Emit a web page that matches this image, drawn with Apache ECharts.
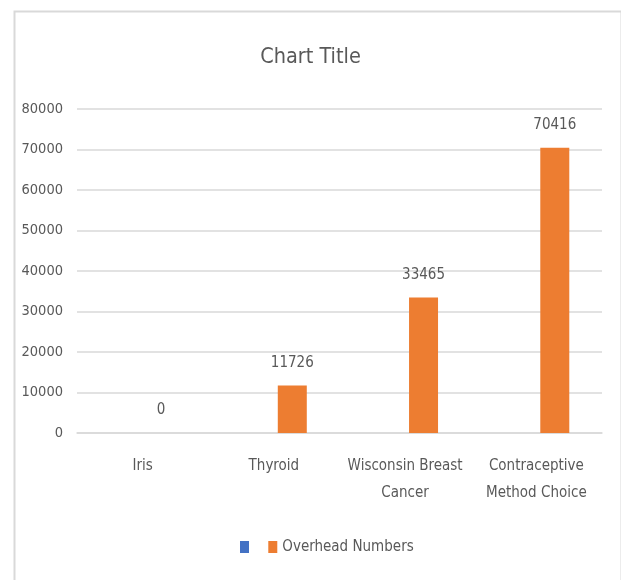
<!DOCTYPE html>
<html>
<head>
<meta charset="utf-8">
<script src="https://cdn.jsdelivr.net/npm/echarts@6/dist/echarts.min.js"></script>
<style>
html,body{margin:0;padding:0;background:#fff;}
#chart{width:621px;height:580px;}
</style>
</head>
<body>
<div id="chart"></div>
<script>
const categories = ['Iris', 'Thyroid', 'Wisconsin Breast Cancer', 'Contraceptive Method Choice'];
const blankSeriesValues = ['-', '-', '-', '-'];
const overheadNumbers = [0, 11726, 33465, 70416];
const yTicks = { min: 0, max: 80000, interval: 10000 };

// pick an installed condensed font if any
const ctx = document.createElement('canvas').getContext('2d');
function w(font, txt) { ctx.font = font; return ctx.measureText(txt).width; }
function available(f) {
  const s = 'Wisconsin Breast 80000 mmmWWWiii';
  return w(`100px "${f}", monospace`, s) !== w('100px monospace', s) ||
         w(`100px "${f}", serif`, s) !== w('100px serif', s);
}
const candidates = ['Liberation Sans Narrow', 'DejaVu Sans Condensed', 'Open Sans Condensed', 'Noto Sans Condensed', 'Liberation Sans'];
let FAMILY = 'Liberation Sans';
for (const c of candidates) { if (available(c)) { FAMILY = c; break; } }
const FONT = `"${FAMILY}", sans-serif`;
const GROW = 1.1;
function fit(txt, target) { return Math.round(GROW * target / w(`100px ${FONT}`, txt) * 100 * 2) / 2; }
const titleSize = fit('Chart Title', 92);
const catSize = fit('Wisconsin Breast', 104);
const ySize = fit('80000', 38);
const dataSize = fit('11726', 39);
const legendSize = fit('Overhead Numbers', 120);

const TXT = '#595959';
const GRID = '#D9D9D9';

const chart = echarts.init(document.getElementById('chart'), null, { renderer: 'canvas' });
chart.setOption({
  backgroundColor: '#fff',
  animation: false,
  graphic: [{
    type: 'rect', left: 12, top: 9, z: -1,
    shape: { width: 607, height: 600 },
    style: { fill: 'none', stroke: '#D9D9D9', lineWidth: 2 }
  }],
  title: {
    text: 'Chart Title', left: 'center', top: 54 - titleSize * 0.6,
    textStyle: { fontFamily: FONT, fontSize: titleSize, fontWeight: 'normal', color: TXT }
  },
  legend: {
    left: 235, top: 534, itemWidth: 9, itemHeight: 12, itemGap: 10,
    icon: 'rect',
    textStyle: { fontFamily: FONT, fontSize: legendSize, color: TXT, lineHeight: 16 },
    data: [' ', 'Overhead Numbers']
  },
  grid: { left: 77, right: 19, top: 109, bottom: 147, containLabel: false },
  xAxis: {
    type: 'category', data: categories,
    axisLine: { lineStyle: { color: GRID, width: 1.5 } },
    axisTick: { show: false },
    axisLabel: {
      interval: 0, margin: 20, color: TXT, fontFamily: FONT, fontSize: catSize,
      lineHeight: 27, align: 'center',
      formatter: function (name) {
        return name.replace('Wisconsin Breast ', 'Wisconsin Breast\n').replace('Contraceptive ', 'Contraceptive\n');
      }
    }
  },
  yAxis: {
    type: 'value', min: yTicks.min, max: yTicks.max, interval: yTicks.interval,
    axisLine: { show: false }, axisTick: { show: false },
    splitLine: { lineStyle: { color: GRID, width: 1.5 } },
    axisLabel: { margin: 14, color: TXT, fontFamily: FONT, fontSize: ySize, formatter: function (v) { return String(v); } }
  },
  series: [
    {
      name: ' ', type: 'bar', data: blankSeriesValues,
      barWidth: 29, barGap: '27%',
      itemStyle: { color: '#4472C4' }
    },
    {
      name: 'Overhead Numbers', type: 'bar', data: overheadNumbers,
      barWidth: 29, barGap: '27%',
      itemStyle: { color: '#ED7D31' },
      label: { show: true, position: 'top', distance: 15, color: TXT, fontFamily: FONT, fontSize: dataSize }
    }
  ]
});
</script>
</body>
</html>
